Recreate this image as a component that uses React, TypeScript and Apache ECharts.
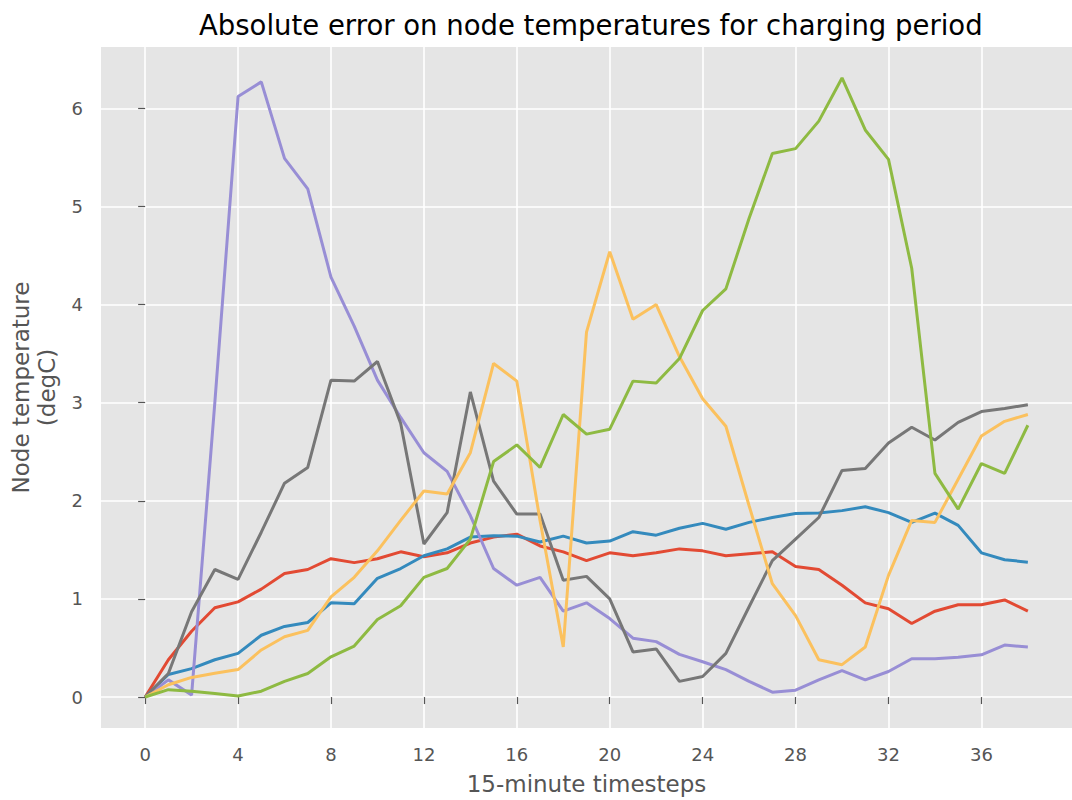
import React, { useEffect, useRef } from "react";
import * as echarts from "echarts";

const TITLE = "Absolute error on node temperatures for charging period";
const X_NAME = "15-minute timesteps";
const Y_NAME = "Node temperature\n(degC)";

const steps: number[] = Array.from({ length: 39 }, (_, i) => i);
const xTicks = [0, 4, 8, 12, 16, 20, 24, 28, 32, 36];
const yTicks = [0, 1, 2, 3, 4, 5, 6];

const red = [0, 0.38, 0.67, 0.91, 0.97, 1.1, 1.26, 1.3, 1.41, 1.37, 1.41, 1.48, 1.43, 1.47, 1.57, 1.63, 1.66, 1.54, 1.48, 1.39, 1.47, 1.44, 1.47, 1.51, 1.49, 1.44, 1.46, 1.48, 1.33, 1.3, 1.14, 0.96, 0.9, 0.75, 0.875, 0.94, 0.94, 0.99, 0.875];
const blue = [0, 0.23, 0.29, 0.38, 0.445, 0.63, 0.72, 0.76, 0.96, 0.95, 1.21, 1.31, 1.44, 1.51, 1.63, 1.645, 1.64, 1.58, 1.64, 1.57, 1.59, 1.685, 1.65, 1.72, 1.77, 1.71, 1.78, 1.83, 1.87, 1.875, 1.9, 1.94, 1.88, 1.78, 1.875, 1.75, 1.47, 1.4, 1.375];
const purple = [0, 0.175, 0.02, 3.0, 6.12, 6.27, 5.49, 5.18, 4.28, 3.78, 3.23, 2.85, 2.49, 2.3, 1.85, 1.31, 1.14, 1.22, 0.875, 0.96, 0.8, 0.6, 0.565, 0.435, 0.36, 0.28, 0.16, 0.05, 0.07, 0.175, 0.27, 0.175, 0.26, 0.39, 0.39, 0.405, 0.43, 0.53, 0.51];
const gray = [0, 0.24, 0.87, 1.3, 1.2, 1.68, 2.18, 2.34, 3.23, 3.22, 3.42, 2.79, 1.56, 1.88, 3.11, 2.2, 1.865, 1.865, 1.19, 1.23, 1.0, 0.46, 0.49, 0.16, 0.21, 0.445, 0.92, 1.39, 1.61, 1.83, 2.31, 2.33, 2.59, 2.75, 2.62, 2.8, 2.91, 2.94, 2.98];
const yellow = [0, 0.125, 0.2, 0.243, 0.28, 0.48, 0.615, 0.68, 1.02, 1.22, 1.49, 1.8, 2.1, 2.07, 2.49, 3.4, 3.22, 1.8, 0.51, 3.72, 4.54, 3.85, 4.0, 3.47, 3.04, 2.76, 1.95, 1.155, 0.83, 0.38, 0.33, 0.51, 1.24, 1.8, 1.78, 2.22, 2.66, 2.81, 2.88];
const green = [0, 0.075, 0.06, 0.035, 0.01, 0.06, 0.16, 0.24, 0.41, 0.52, 0.79, 0.93, 1.22, 1.31, 1.61, 2.4, 2.57, 2.34, 2.88, 2.68, 2.73, 3.22, 3.2, 3.45, 3.94, 4.16, 4.88, 5.54, 5.59, 5.87, 6.31, 5.78, 5.48, 4.37, 2.28, 1.915, 2.38, 2.28, 2.77];

const seriesList = [
  { name: "node 1", values: red, color: "#E24A33" },
  { name: "node 2", values: blue, color: "#348ABD" },
  { name: "node 3", values: purple, color: "#988ED5" },
  { name: "node 4", values: gray, color: "#777777" },
  { name: "node 5", values: yellow, color: "#FBC15E" },
  { name: "node 6", values: green, color: "#8EBA42" },
];

const FONT = "DejaVu Sans";

export default function App() {
  const ref = useRef<HTMLDivElement>(null);

  useEffect(() => {
    if (!ref.current) return;
    const chart = echarts.init(ref.current, undefined, { renderer: "svg" });

    const allY = seriesList.flatMap((s) => s.values);
    const yMaxD = Math.max(...allY);
    const yMinD = Math.min(...allY);
    const yPad = (yMaxD - yMinD) * 0.05;
    const xMinD = steps[0];
    const xMaxD = steps[steps.length - 1];
    const xPad = (xMaxD - xMinD) * 0.05;

    const option = {
      animation: false,
      backgroundColor: "#ffffff",
      title: {
        text: TITLE,
        left: 194,
        top: 6,
        textStyle: { fontFamily: FONT, fontSize: 27.5, fontWeight: "normal", color: "#000" },
      },
      grid: {
        left: 101,
        right: 0,
        top: 47,
        bottom: 71,
        show: true,
        backgroundColor: "#E5E5E5",
        borderWidth: 0,
      },
      xAxis: {
        type: "value",
        min: xMinD - xPad,
        max: xMaxD + xPad,
        name: X_NAME,
        nameLocation: "middle",
        nameGap: 44,
        nameTextStyle: { fontFamily: FONT, fontSize: 23, color: "#555" },
        axisLine: { show: false },
        axisTick: { show: true, length: 7, customValues: xTicks, lineStyle: { color: "#555", width: 1.2 } },
        axisLabel: { customValues: xTicks, margin: 17, fontFamily: FONT, fontSize: 18, color: "#555" },
        splitLine: { show: true, lineStyle: { color: "#ffffff", width: 1.6 } },
      },
      yAxis: {
        type: "value",
        min: yMinD - yPad,
        max: yMaxD + yPad,
        name: Y_NAME,
        nameLocation: "middle",
        nameGap: 41,
        nameTextStyle: { fontFamily: FONT, fontSize: 23, color: "#555", lineHeight: 26 },
        axisLine: { show: false },
        axisTick: { show: true, length: 7, customValues: yTicks, lineStyle: { color: "#555", width: 1.2 } },
        axisLabel: { customValues: yTicks, margin: 18, fontFamily: FONT, fontSize: 18, color: "#555" },
        splitLine: { show: true, lineStyle: { color: "#ffffff", width: 1.6 } },
      },
      series: seriesList.map((s) => ({
        name: s.name,
        type: "line",
        data: steps.map((x, i) => [x, s.values[i]]),
        symbol: "none",
        lineStyle: { color: s.color, width: 3 },
        itemStyle: { color: s.color },
      })),
    };

    chart.setOption(option as any);
    return () => chart.dispose();
  }, []);

  return (
    <div
      ref={ref}
      style={{ position: "absolute", left: 0, top: 0, width: 1072, height: 800 }}
    />
  );
}
